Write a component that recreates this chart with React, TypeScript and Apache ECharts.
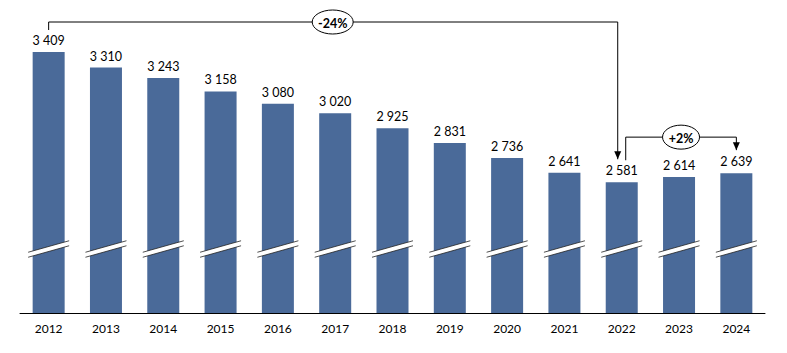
import React, { useEffect, useRef } from "react";
import * as echarts from "echarts";

const years = ["2012", "2013", "2014", "2015", "2016", "2017", "2018", "2019", "2020", "2021", "2022", "2023", "2024"];
const values = [3409, 3310, 3243, 3158, 3080, 3020, 2925, 2831, 2736, 2641, 2581, 2614, 2639];
const axisMin = 1750;
const axisMax = 3409;

const BAR_COLOR = "#4a6a99";
const FONT = "Lato, 'Noto Sans', sans-serif";

const fmt = (v: number) => String(v).replace(/\B(?=(\d{3})+(?!\d))/g, " ");
const pct = (a: number, b: number) => {
  const p = Math.round(((b - a) / a) * 100);
  return (p > 0 ? "+" : "") + p + "%";
};

export default function App() {
  const ref = useRef<HTMLDivElement>(null);
  useEffect(() => {
    if (!ref.current) return;
    const chart = echarts.init(ref.current, null, { renderer: "svg" });
    chart.setOption({
      animation: false,
      grid: { left: 20, right: 22, top: 52, bottom: 40 },
      xAxis: {
        type: "category",
        data: years,
        axisLine: { lineStyle: { color: "#000", width: 1 } },
        axisTick: { show: false },
        axisLabel: { color: "#000", fontSize: 12, fontFamily: FONT, margin: 9 },
      },
      yAxis: { type: "value", min: axisMin, max: axisMax, show: false, splitLine: { show: false } },
      series: [
        {
          type: "bar",
          data: values,
          barWidth: 32,
          itemStyle: { color: BAR_COLOR },
          label: {
            show: true,
            position: "top",
            distance: 5,
            color: "#000",
            fontSize: 12.5,
            fontFamily: FONT,
            formatter: (p: any) => fmt(p.value),
          },
        },
      ],
    });

    const px = (i: number, v: number) =>
      chart.convertToPixel({ xAxisIndex: 0, yAxisIndex: 0 }, [years[i], v]) as number[];
    const axisY = px(0, axisMin)[1];
    const g: any[] = [];
    const line = (pts: number[][]) =>
      g.push({ type: "polyline", z: 100, shape: { points: pts }, style: { stroke: "#000", lineWidth: 1, fill: null } });
    const arrow = (x: number, y: number) =>
      g.push({
        type: "polygon",
        z: 100,
        shape: { points: [[x - 3.5, y - 8], [x + 3.5, y - 8], [x, y]] },
        style: { fill: "#000" },
      });
    const bubble = (cx: number, cy: number, rx: number, text: string) => {
      g.push({
        type: "ellipse",
        z: 101,
        shape: { cx, cy, rx, ry: 12 },
        style: { fill: "#fff", stroke: "#000", lineWidth: 1 },
      });
      g.push({
        type: "text",
        z: 102,
        style: {
          text,
          x: cx,
          y: cy + 1,
          align: "center",
          verticalAlign: "middle",
          fontSize: 12.5,
          fontWeight: "bold",
          fontFamily: FONT,
          fill: "#000",
        },
      });
    };

    // axis breaks
    values.forEach((v, i) => {
      const cx = px(i, v)[0];
      const yu = axisY - 66.5;
      const yl = yu + 5;
      const hw = 20.5;
      const hd = 5.75;
      g.push({
        type: "polygon",
        z: 90,
        shape: { points: [[cx - hw, yu + hd], [cx + hw, yu - hd], [cx + hw, yl - hd], [cx - hw, yl + hd]] },
        style: { fill: "#fff" },
      });
      g.push({ type: "line", z: 91, shape: { x1: cx - hw, y1: yu + hd, x2: cx + hw, y2: yu - hd }, style: { stroke: "#222", lineWidth: 0.8 } });
      g.push({ type: "line", z: 91, shape: { x1: cx - hw, y1: yl + hd, x2: cx + hw, y2: yl - hd }, style: { stroke: "#222", lineWidth: 0.8 } });
    });

    // -24% bracket: 2012 -> 2022
    const iA = 0, iB = 10, iC = 12;
    const a = px(iA, values[iA]);
    const b = px(iB, values[iB]);
    const c = px(iC, values[iC]);
    const topY = a[1] - 30;
    line([[a[0], a[1] - 22], [a[0], topY], [b[0] - 4, topY], [b[0] - 4, b[1] - 23]]);
    arrow(b[0] - 4, b[1] - 23);
    bubble((a[0] + b[0] - 4) / 2 - 0.5, topY, 20.5, pct(values[iA], values[iB]));

    // +2% bracket: 2022 -> 2024
    const midY = Math.min(c[1], px(11, values[11])[1]) - 36;
    line([[b[0] + 4, b[1] - 22], [b[0] + 4, midY], [c[0], midY], [c[0], c[1] - 23]]);
    arrow(c[0], c[1] - 23);
    bubble((b[0] + 4 + c[0]) / 2, midY, 18.5, pct(values[iB], values[iC]));

    chart.setOption({ graphic: { elements: g } });
    return () => chart.dispose();
  }, []);
  return <div ref={ref} style={{ width: 787, height: 353, position: "absolute", left: 0, top: 0 }} />;
}
